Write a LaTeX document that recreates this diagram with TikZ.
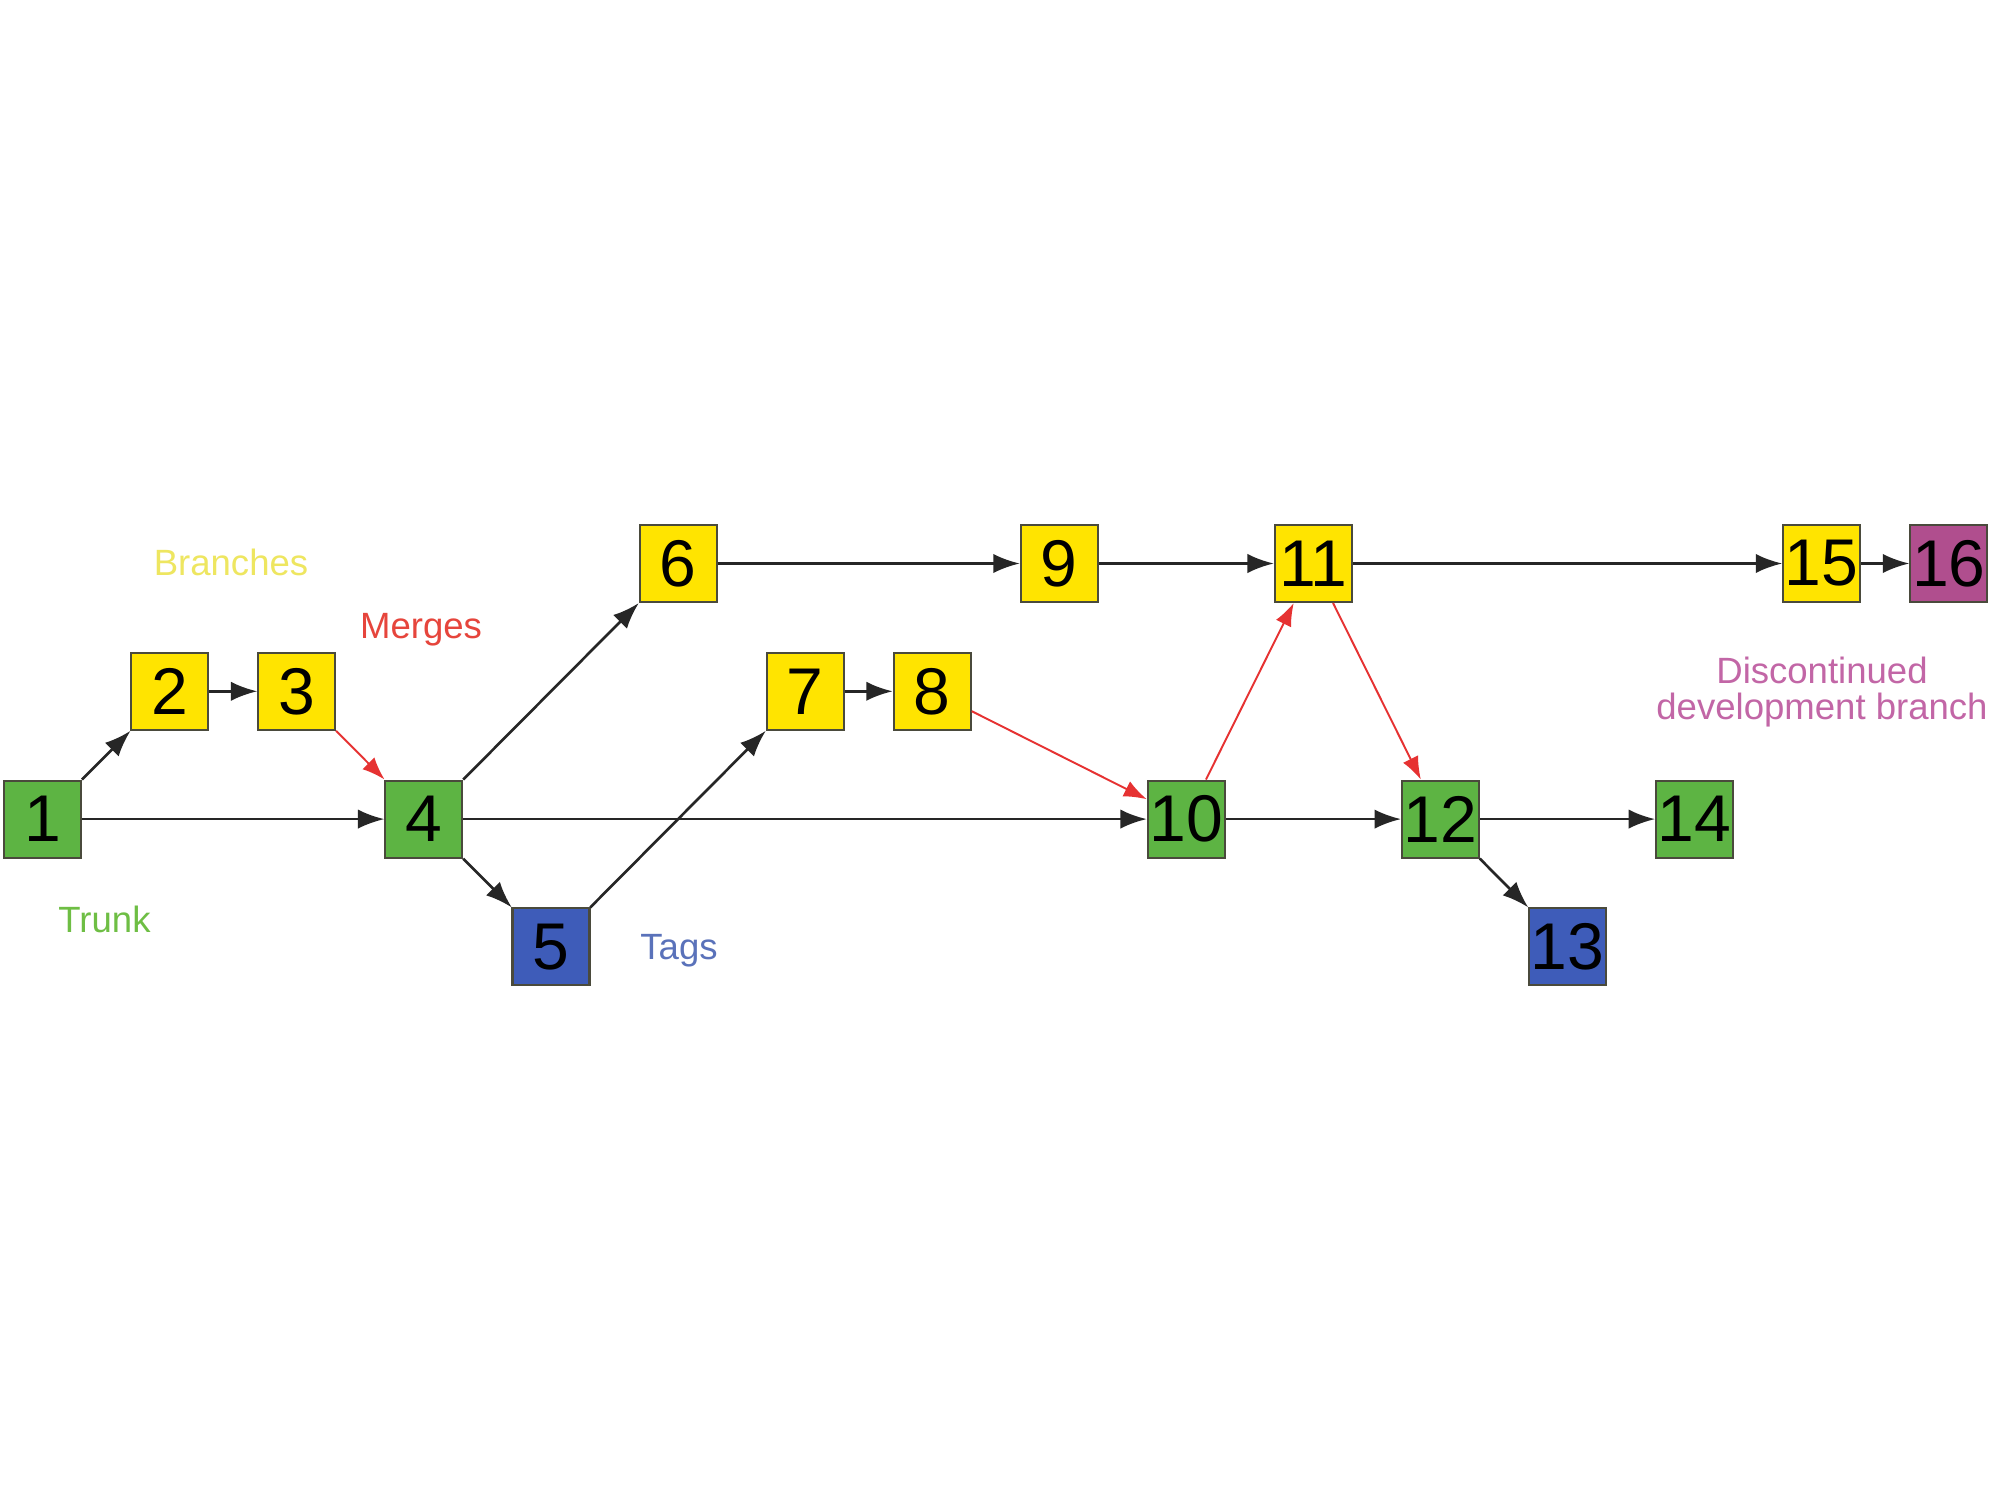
\documentclass[tikz,border=0pt]{standalone}
\usepackage{fontspec}
\setmainfont{Liberation Sans}
\usetikzlibrary{arrows.meta}
\definecolor{byellow}{HTML}{FFE400}
\definecolor{bgreen}{HTML}{5DB443}
\definecolor{bblue}{HTML}{3E5CB9}
\definecolor{bpurple}{HTML}{B04E8E}
\definecolor{boxline}{HTML}{4A4A3C}
\definecolor{arrblack}{HTML}{262626}
\definecolor{mergered}{HTML}{E63232}
\definecolor{tyellow}{HTML}{EEE660}
\definecolor{tred}{HTML}{E6453C}
\definecolor{tgreen}{HTML}{6EBE44}
\definecolor{tblue}{HTML}{5A72BA}
\definecolor{tpink}{HTML}{C266A6}
\begin{document}
\begin{tikzpicture}[
  box/.style={draw=boxline, line width=0.6pt, minimum size=0.77cm, inner sep=0pt,
    font=\fontsize{18.8}{20}\selectfont, text=black},
  yb/.style={box, fill=byellow},
  gb/.style={box, fill=bgreen},
  bb/.style={box, fill=bblue},
  pb/.style={box, fill=bpurple},
  arr/.style={draw=arrblack, line width=0.75pt, -{Latex[length=7.5pt,width=5.5pt]}},
  marr/.style={draw=mergered, line width=0.55pt, -{Latex[length=6.5pt,width=4.8pt]}},
  lbl/.style={font=\fontsize{10.4}{10}\selectfont, align=center, inner sep=0pt}
]
\fill[white] (0,0) rectangle (20,15);
\useasboundingbox (0,0) rectangle (20,15);

\node[gb] (n1)  at (0.427,6.809) {1};
\node[yb] (n2)  at (1.698,8.087) {2};
\node[yb] (n3)  at (2.968,8.087) {3};
\node[gb] (n4)  at (4.239,6.809) {4};
\node[bb] (n5)  at (5.510,5.531) {5};
\node[yb] (n6)  at (6.781,9.365) {6};
\node[yb] (n7)  at (8.051,8.087) {7};
\node[yb] (n8)  at (9.322,8.087) {8};
\node[yb] (n9)  at (10.593,9.365) {9};
\node[gb] (n10) at (11.863,6.809) {10};
\node[yb] (n11) at (13.134,9.365) {11};
\node[gb] (n12) at (14.405,6.809) {12};
\node[bb] (n13) at (15.675,5.531) {13};
\node[gb] (n14) at (16.946,6.809) {14};
\node[yb] (n15) at (18.217,9.365) {15};
\node[pb] (n16) at (19.488,9.365) {16};

\node[lbl, text=tyellow] (lbranches) at (2.31,9.38) {Branches};
\node[lbl, text=tred] (lmerges) at (4.21,8.70) {Merges};
\node[lbl, text=tgreen] (ltrunk) at (1.045,5.81) {Trunk};
\node[lbl, text=tblue] (ltags) at (6.79,5.49) {Tags};
\node[lbl, text=tpink] (ldisc) at (18.22,8.08) {Discontinued\\development branch};

\draw[arr] (n1) -- (n2);
\draw[arr] (n2) -- (n3);
\draw[arr] (n1) -- (n4);
\draw[marr] (n3) -- (n4);
\draw[arr] (n4) -- (n6);
\draw[arr] (n4) -- (n5);
\draw[arr] (n4) -- (n10);
\draw[arr] (n5) -- (n7);
\draw[arr] (n7) -- (n8);
\draw[marr] (n8) -- (n10);
\draw[arr] (n6) -- (n9);
\draw[arr] (n9) -- (n11);
\draw[marr] (n10) -- (n11);
\draw[arr] (n10) -- (n12);
\draw[marr] (n11) -- (n12);
\draw[arr] (n11) -- (n15);
\draw[arr] (n15) -- (n16);
\draw[arr] (n12) -- (n14);
\draw[arr] (n12) -- (n13);
\end{tikzpicture}
\end{document}
